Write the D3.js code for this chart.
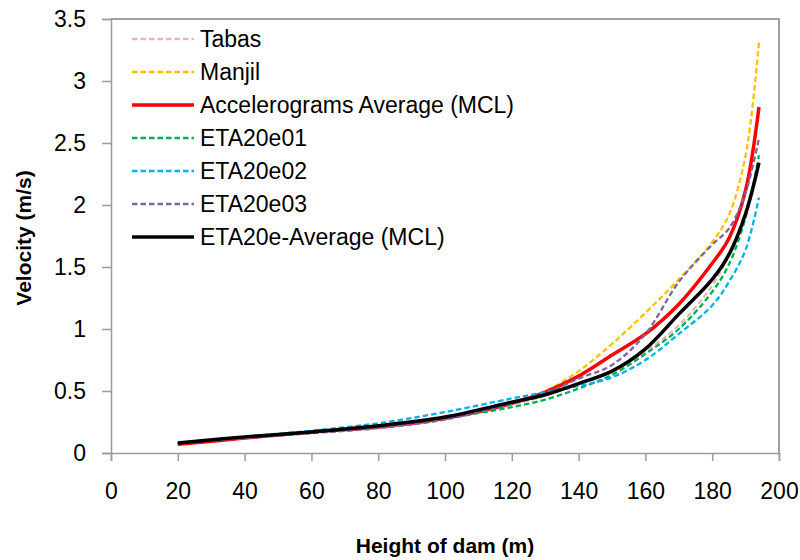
<!DOCTYPE html>
<html>
<head>
<meta charset="utf-8">
<script src="https://cdn.jsdelivr.net/npm/d3@7"></script>
<style>
  html, body { margin: 0; padding: 0; background: #fff; }
  svg { display: block; font-family: "Liberation Sans", Arial, sans-serif; }
</style>
</head>
<body>
<svg id="chart" width="800" height="560"></svg>
<script>
// Dam heights (m) at which velocities were computed
const heights = [20, 40, 60, 80, 100, 120, 130, 140, 150, 160, 170, 180, 185, 190, 194];

// Crest velocity (m/s) for each record / analysis
const tabas    = [0.08, 0.12, 0.17, 0.21, 0.28, 0.39, 0.46, 0.56, 0.66, 0.82, 1.03, 1.35, 1.60, 1.95, 2.35];
const manjil   = [0.08, 0.13, 0.17, 0.22, 0.29, 0.41, 0.50, 0.66, 0.88, 1.13, 1.40, 1.70, 1.92, 2.40, 3.31];
const accAvg   = [0.07, 0.12, 0.17, 0.21, 0.28, 0.40, 0.49, 0.62, 0.79, 0.96, 1.20, 1.53, 1.73, 2.12, 2.79];
const eta01    = [0.08, 0.13, 0.17, 0.22, 0.28, 0.37, 0.43, 0.52, 0.63, 0.80, 1.00, 1.30, 1.52, 1.90, 2.40];
const eta02    = [0.08, 0.13, 0.18, 0.24, 0.33, 0.44, 0.49, 0.54, 0.61, 0.75, 0.96, 1.19, 1.38, 1.64, 2.06];
const eta03    = [0.08, 0.12, 0.16, 0.20, 0.27, 0.40, 0.48, 0.60, 0.71, 0.96, 1.38, 1.68, 1.81, 2.10, 2.54];
const etaAvg   = [0.08, 0.13, 0.17, 0.22, 0.29, 0.41, 0.47, 0.56, 0.66, 0.84, 1.12, 1.40, 1.60, 1.93, 2.34];

const xTicks = [0, 20, 40, 60, 80, 100, 120, 140, 160, 180, 200];
const yTicks = [0, 0.5, 1, 1.5, 2, 2.5, 3, 3.5];

const seriesNames = ["Tabas", "Manjil", "Accelerograms Average (MCL)", "ETA20e01", "ETA20e02", "ETA20e03", "ETA20e-Average (MCL)"];
const seriesValues = [tabas, manjil, accAvg, eta01, eta02, eta03, etaAvg];
const seriesColors = ["#E6B9B8", "#FFC000", "#FF0000", "#00B050", "#00B0F0", "#8064A2", "#000000"];
const seriesSolid  = [false, false, true, false, false, false, true];

const svg = d3.select("#chart");
const plotL = 111, plotR = 779, plotT = 19, plotB = 453;

const x = d3.scaleLinear().domain([0, 200]).range([plotL, plotR]);
const y = d3.scaleLinear().domain([0, 3.5]).range([plotB, plotT]);

const axisGrey = "#9a9a9a";

// plot-area frame (top and right edges)
svg.append("path")
  .attr("d", `M${plotL},${plotT}H${plotR}V${plotB}`)
  .attr("fill", "none").attr("stroke", "#808080").attr("stroke-width", 1.5);

// x axis
const xAxis = svg.append("g")
  .attr("transform", `translate(0,${plotB})`)
  .call(d3.axisBottom(x).tickValues(xTicks).tickSize(8).tickPadding(22).tickFormat(d3.format("d")));
xAxis.select(".domain").attr("stroke", axisGrey).attr("stroke-width", 1.5);
xAxis.selectAll(".tick line").attr("stroke", axisGrey).attr("stroke-width", 1.5);
xAxis.selectAll("text").attr("font-size", 23).attr("fill", "#000")
  .attr("font-family", "Liberation Sans, Arial, sans-serif");

// y axis
const yAxis = svg.append("g")
  .attr("transform", `translate(${plotL},0)`)
  .call(d3.axisLeft(y).tickValues(yTicks).tickSize(9).tickPadding(16).tickFormat(d => String(d)));
yAxis.select(".domain").attr("stroke", axisGrey).attr("stroke-width", 1.5);
yAxis.selectAll(".tick line").attr("stroke", axisGrey).attr("stroke-width", 1.5);
yAxis.selectAll("text").attr("font-size", 23).attr("fill", "#000")
  .attr("font-family", "Liberation Sans, Arial, sans-serif");

// curves
const line = d3.line()
  .x((d, i) => x(heights[i]))
  .y(d => y(d))
  .curve(d3.curveCatmullRom);

seriesValues.forEach((vals, k) => {
  svg.append("path")
    .datum(vals)
    .attr("d", line)
    .attr("fill", "none")
    .attr("stroke", seriesColors[k])
    .attr("stroke-width", seriesSolid[k] ? 3.5 : 2.3)
    .attr("stroke-dasharray", seriesSolid[k] ? null : "5.5,3")
    .attr("stroke-linejoin", "round");
});

// legend
const legend = svg.append("g");
seriesNames.forEach((name, k) => {
  const ly = 39 + k * 33;
  legend.append("line")
    .attr("x1", 132).attr("x2", 194).attr("y1", ly).attr("y2", ly)
    .attr("stroke", seriesColors[k])
    .attr("stroke-width", seriesSolid[k] ? 3.5 : 2.3)
    .attr("stroke-dasharray", seriesSolid[k] ? null : "5.5,3");
  legend.append("text")
    .attr("x", 200).attr("y", ly).attr("dy", "0.36em")
    .attr("font-size", 23).attr("fill", "#000")
    .text(name);
});

// axis titles
svg.append("text")
  .attr("x", (plotL + plotR) / 2).attr("y", 553)
  .attr("text-anchor", "middle")
  .attr("font-size", 21).attr("font-weight", "bold")
  .text("Height of dam (m)");

svg.append("text")
  .attr("transform", `translate(31,${(plotT + plotB) / 2 + 2}) rotate(-90)`)
  .attr("text-anchor", "middle")
  .attr("font-size", 21).attr("font-weight", "bold")
  .text("Velocity (m/s)");
</script>
</body>
</html>
